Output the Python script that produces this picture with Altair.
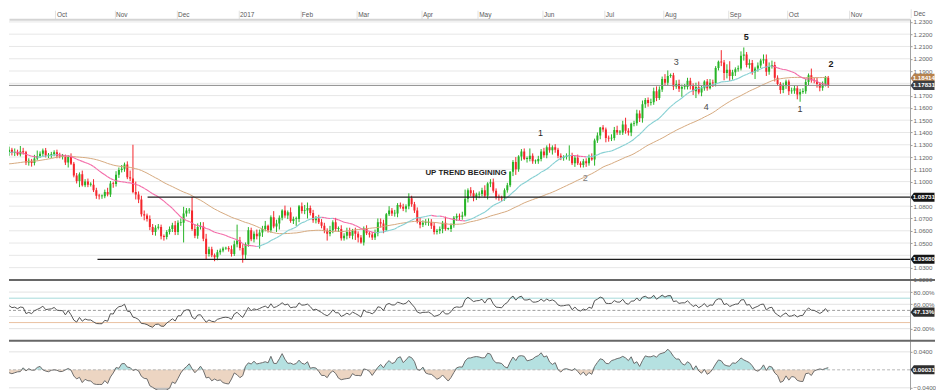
import altair as alt
import numpy as np
import pandas as pd

# ---------------- data: EUR/USD daily candles ----------------
# closes before the first visible candle (Jun 27 - Sep 7 2016), used only to seed the indicators
pre_close = [
    1.1035, 1.1065, 1.1125, 1.1105,
    1.1135, 1.1095, 1.1075, 1.1095, 1.1060, 1.1050, 1.1055, 1.1060, 1.1090, 1.1120,
    1.1040, 1.1065, 1.1020, 1.1005, 1.1025, 1.0975, 1.0995, 1.0995, 1.1060, 1.1075, 1.1170,
    1.1160, 1.1225, 1.1150, 1.1130, 1.1085, 1.1090, 1.1120, 1.1180, 1.1135, 1.1160,
    1.1180, 1.1285, 1.1290, 1.1350, 1.1325, 1.1320, 1.1305, 1.1265, 1.1285, 1.1195,
    1.1180, 1.1145, 1.1160,
    1.1195, 1.1155, 1.1150, 1.1255, 1.1240,
]

# closes per month, and wicks (pips above / below the body)
c16_09 = [1.1260, 1.1233, 1.1240, 1.1220, 1.1245, 1.1240, 1.1155, 1.1170, 1.1152, 1.1188,
          1.1208, 1.1226, 1.1254, 1.1212, 1.1218, 1.1222, 1.1240]
wu16_09 = [25, 15, 30, 20, 45, 30, 10, 20, 15, 30, 45, 20, 15, 20, 15, 20, 15]
wd16_09 = [30, 20, 25, 10, 15, 20, 20, 25, 30, 20, 15, 15, 20, 15, 20, 25, 15]

c16_10 = [1.1210, 1.1205, 1.1205, 1.1155, 1.1200, 1.1145, 1.1050, 1.1005, 1.1060, 1.0970,
          1.1000, 1.0975, 1.0975, 1.0930, 1.0885, 1.0880, 1.0880, 1.0915, 1.0895, 1.0985, 1.0980]
wu16_10 = [20, 25, 20, 15, 15, 30, 15, 20, 15, 30, 20, 25, 20, 45, 20, 15, 15, 20, 35, 20, 15]
wd16_10 = [20, 15, 25, 20, 40, 10, 15, 20, 50, 10, 15, 20, 15, 15, 25, 25, 20, 15, 15, 20, 30]

c16_11 = [1.1055, 1.1095, 1.1105, 1.1140, 1.1035, 1.1025, 1.0915, 1.0895, 1.0855, 1.0735,
          1.0725, 1.0695, 1.0630, 1.0590, 1.0625, 1.0630, 1.0555, 1.0550, 1.0590, 1.0615,
          1.0645, 1.0590]
wu16_11 = [30, 20, 30, 15, 25, 55, 275, 85, 25, 30, 30, 15, 30, 25, 20, 25, 20, 15, 15, 20, 20, 35]
wd16_11 = [20, 25, 20, 25, 15, 20, 10, 40, 30, 20, 40, 20, 25, 25, 30, 15, 25, 30, 20, 20, 25, 25]

c16_12 = [1.0665, 1.0665, 1.0740, 1.0765, 1.0765, 1.0615, 1.0560, 1.0630, 1.0635, 1.0535,
          1.0410, 1.0450, 1.0400, 1.0385, 1.0425, 1.0440, 1.0455, 1.0460, 1.0450, 1.0410,
          1.0490, 1.0520]
wu16_12 = [20, 35, 55, 20, 20, 110, 40, 30, 35, 35, 40, 20, 20, 15, 20, 15, 15, 10, 15, 30, 30, 130]
wd16_12 = [25, 25, 160, 25, 25, 15, 20, 25, 20, 20, 45, 20, 15, 33, 25, 20, 15, 10, 20, 20, 15, 25]

c17_01 = [1.0460, 1.0405, 1.0490, 1.0605, 1.0530, 1.0575, 1.0555, 1.0585, 1.0615, 1.0640,
          1.0605, 1.0710, 1.0635, 1.0660, 1.0705, 1.0765, 1.0725, 1.0750, 1.0680, 1.0695,
          1.0695, 1.0800]
wu17_01 = [30, 30, 15, 25, 20, 20, 35, 25, 25, 40, 10, 15, 50, 30, 20, 10, 40, 15, 40, 20, 20, 10]
wd17_01 = [20, 65, 40, 20, 15, 25, 25, 100, 35, 20, 20, 20, 15, 45, 50, 20, 20, 30, 15, 25, 55, 25]

c17_02 = [1.0760, 1.0765, 1.0785, 1.0745, 1.0685, 1.0700, 1.0670, 1.0640, 1.0600, 1.0575,
          1.0605, 1.0670, 1.0615, 1.0615, 1.0540, 1.0560, 1.0590, 1.0560, 1.0600, 1.0575]
wu17_02 = [30, 45, 45, 20, 25, 20, 30, 25, 25, 20, 35, 15, 35, 20, 30, 20, 35, 35, 15, 25]
wd17_02 = [20, 25, 65, 20, 20, 25, 15, 20, 20, 55, 20, 25, 20, 25, 20, 20, 30, 20, 30, 50]

c17_03 = [1.0545, 1.0505, 1.0620, 1.0580, 1.0570, 1.0545, 1.0580, 1.0670, 1.0660, 1.0605,
          1.0735, 1.0765, 1.0740, 1.0740, 1.0810, 1.0795, 1.0780, 1.0800, 1.0865, 1.0815,
          1.0765, 1.0675, 1.0650]
wu17_03 = [20, 20, 15, 25, 15, 20, 30, 30, 30, 30, 10, 35, 20, 30, 15, 20, 25, 15, 40, 20, 20, 25, 30]
wd17_03 = [40, 10, 25, 15, 25, 20, 20, 25, 35, 25, 5, 15, 20, 25, 30, 15, 20, 30, 25, 20, 20, 15, 30]

c17_04 = [1.0665, 1.0665, 1.0670, 1.0640, 1.0590, 1.0600, 1.0615, 1.0665, 1.0615, 1.0615,
          1.0645, 1.0705, 1.0720, 1.0715, 1.0725, 1.0860, 1.0930, 1.0905, 1.0875, 1.0895]
wu17_04 = [20, 30, 30, 25, 30, 15, 20, 15, 50, 10, 15, 15, 20, 20, 30, 75, 15, 25, 25, 15]
wd17_04 = [20, 20, 25, 25, 20, 20, 25, 35, 15, 10, 25, 20, 25, 30, 25, 10, 30, 25, 35, 25]

c17_05 = [1.0900, 1.0930, 1.0885, 1.0985, 1.0995, 1.0925, 1.0875, 1.0870, 1.0865, 1.0930,
          1.0970, 1.1080, 1.1160, 1.1100, 1.1205, 1.1245, 1.1185, 1.1185, 1.1210, 1.1165,
          1.1165, 1.1185, 1.1245]
wu17_05 = [20, 20, 40, 10, 25, 30, 20, 20, 15, 15, 20, 5, 15, 40, 10, 20, 25, 20, 60, 20, 15, 25, 20]
wd17_05 = [30, 20, 15, 30, 30, 15, 20, 25, 25, 20, 20, 15, 35, 45, 20, 35, 10, 30, 20, 20, 20, 20, 20]

c17_06 = [1.1215, 1.1280, 1.1255, 1.1280, 1.1260, 1.1210, 1.1195, 1.1200, 1.1210, 1.1215,
          1.1150, 1.1195, 1.1150, 1.1135, 1.1165, 1.1150, 1.1195, 1.1180, 1.1335, 1.1375,
          1.1440, 1.1425]
wu17_06 = [30, 15, 30, 15, 25, 15, 20, 15, 20, 80, 20, 15, 25, 15, 20, 25, 25, 35, 15, 25, 5, 20]
wd17_06 = [20, 25, 20, 35, 25, 20, 20, 25, 20, 40, 15, 30, 15, 20, 20, 30, 20, 10, 50, 20, 30, 20]

c17_07 = [1.1355, 1.1350, 1.1355, 1.1420, 1.1400, 1.1400, 1.1465, 1.1415, 1.1400, 1.1470,
          1.1475, 1.1555, 1.1515, 1.1630, 1.1665, 1.1640, 1.1645, 1.1735, 1.1680, 1.1750, 1.1835]
wu17_07 = [15, 20, 30, 25, 35, 20, 30, 55, 20, 10, 20, 30, 25, 30, 15, 20, 30, 30, 40, 25, 20]
wd17_07 = [35, 25, 20, 20, 20, 20, 20, 25, 25, 30, 20, 20, 30, 35, 30, 30, 20, 20, 25, 15, 20]

c17_08 = [1.1805, 1.1860, 1.1865, 1.1775, 1.1795, 1.1755, 1.1770, 1.1770, 1.1820, 1.1780,
          1.1735, 1.1770, 1.1725, 1.1760, 1.1815, 1.1760, 1.1805, 1.1800, 1.1925, 1.1975,
          1.1970, 1.1885, 1.1910]
wu17_08 = [40, 45, 15, 20, 30, 35, 20, 25, 25, 25, 20, 35, 45, 20, 10, 20, 30, 25, 15, 10, 95, 20, 45]
wd17_08 = [25, 25, 15, 30, 20, 25, 65, 20, 20, 30, 30, 55, 15, 30, 20, 20, 10, 30, 25, 20, 30, 60, 45]

c17_09 = [1.1860, 1.1890, 1.1915, 1.1920, 1.2025, 1.2035, 1.1950, 1.1965, 1.1890, 1.1920,
          1.1945, 1.1985, 1.1995, 1.1895, 1.1940, 1.1950, 1.1845, 1.1795, 1.1745, 1.1785, 1.1815]
wu17_09 = [70, 20, 15, 25, 35, 57, 20, 30, 25, 15, 25, 15, 40, 40, 30, 35, 25, 20, 15, 20, 15]
wd17_09 = [40, 30, 30, 20, 15, 40, 20, 30, 20, 55, 25, 20, 25, 35, 25, 20, 30, 15, 30, 25, 30]

c17_10 = [1.1735, 1.1740, 1.1760, 1.1710, 1.1730, 1.1735, 1.1810, 1.1865, 1.1825, 1.1820,
          1.1795, 1.1765, 1.1790, 1.1845, 1.1783]
wu17_10 = [15, 25, 25, 20, 25, 25, 25, 15, 55, 20, 25, 15, 25, 15, 15]
wd17_10 = [30, 20, 25, 40, 60, 15, 20, 25, 20, 20, 30, 30, 25, 15, 20]

# drawn horizontal levels (start = trading-day number, Oct 3 2016 = 0)
level_start = [32.2, 14.4]
level_price = [1.08731, 1.03680]
last_price_line = [1.17831]

# right-hand price tags
tag_text = ["1.18414", "1.17831", "1.08731", "1.03680"]
tag_price = [1.18414, 1.17831, 1.08731, 1.03680]
tag_bg = ["#b7824d", "#3b3e43", "#151515", "#151515"]

# price axis labels that are not hidden behind a tag
price_labels = [1.02, 1.03, 1.05, 1.06, 1.07, 1.08, 1.10, 1.11, 1.12, 1.13, 1.14, 1.15,
                1.16, 1.17, 1.19, 1.20, 1.21, 1.22, 1.23]
price_grid = [round(1.02 + 0.01 * k, 2) for k in range(22)]

# wave annotations
bold_text = ["5", "2"]
bold_x = [244.9, 275.0]
bold_y = [1.2180, 1.1961]
trend_text = ["UP TREND BEGINING"]
trend_x = [130.9]
trend_y = [1.1067]
plain_text = ["3", "4", "1", "2", "1"]
plain_x = [220.0, 230.7, 264.0, 187.7, 171.8]
plain_y = [1.1977, 1.1611, 1.1587, 1.1026, 1.1392]
plain_col = ["#4a4a4a", "#4a4a4a", "#3a3a3a", "#7a7a7a", "#1e1e1e"]

rsi_labels = [20, 60, 80]
rsi_grid = [20, 40, 60, 80]
rsi_tag = ["47.13%"]
rsi_tag_val = [47.13]
osc_labels = [-0.04, 0.04]
osc_tag = ["0.00031"]
osc_tag_val = [0.00031]

# ---------------- assemble ----------------
months = [
    (c16_09, wu16_09, wd16_09), (c16_10, wu16_10, wd16_10), (c16_11, wu16_11, wd16_11),
    (c16_12, wu16_12, wd16_12), (c17_01, wu17_01, wd17_01), (c17_02, wu17_02, wd17_02),
    (c17_03, wu17_03, wd17_03), (c17_04, wu17_04, wd17_04), (c17_05, wu17_05, wd17_05),
    (c17_06, wu17_06, wd17_06), (c17_07, wu17_07, wd17_07), (c17_08, wu17_08, wd17_08),
    (c17_09, wu17_09, wd17_09), (c17_10, wu17_10, wd17_10),
]
for k, (a, b, cc) in enumerate(months):
    assert len(a) == len(b) == len(cc), (k, len(a), len(b), len(cc))
closes = sum((m[0] for m in months), [])
wick_up = sum((m[1] for m in months), [])
wick_dn = sum((m[2] for m in months), [])

dates = pd.bdate_range("2016-09-08", "2017-10-20")
pre_dates = pd.bdate_range("2016-06-27", "2016-09-07")
assert len(pre_dates) == len(pre_close), (len(pre_dates), len(pre_close))
assert len(dates) == len(closes), (len(dates), len(closes))

cal = pd.bdate_range("2016-09-08", "2017-12-29")
ORIGIN = cal.get_loc(pd.Timestamp("2016-10-03"))
idx = np.arange(len(closes)) - ORIGIN

npre = len(pre_close)
allc = pd.Series(pre_close + closes, dtype=float)
ma20 = allc.rolling(20).mean().to_numpy()[npre:]
ma50 = allc.rolling(50).mean().to_numpy()[npre:]
dd = allc.diff()
ag = dd.clip(lower=0).ewm(alpha=1 / 14, adjust=False).mean()
al = (-dd.clip(upper=0)).ewm(alpha=1 / 14, adjust=False).mean()
rsi = (100 - 100 / (1 + ag / al)).to_numpy()[npre:]
mom = (allc - allc.shift(14)).to_numpy()[npre:]

c = np.array(closes)
o = np.array([pre_close[-1]] + closes[:-1])
hi = np.maximum(o, c) + np.array(wick_up) * 1e-4
lo = np.minimum(o, c) - np.array(wick_dn) * 1e-4
b_lo = np.minimum(o, c)
b_hi = np.maximum(np.maximum(o, c), b_lo + 0.0007)

GREEN, RED = "#27b427", "#f4262c"
TEAL, PINK, TAN = "#84cfd2", "#f36aa8", "#d6aa80"

df = pd.DataFrame({
    "idx": idx, "low": lo, "high": hi, "b0": b_lo, "b1": b_hi,
    "col": np.where(c >= o, GREEN, RED), "ma50": ma50,
    "rsi": rsi, "rsi_hi": np.maximum(rsi, 70), "rsi_lo": np.minimum(rsi, 30),
    "mom": mom, "m_pos": np.maximum(mom, 0), "m_neg": np.minimum(mom, 0),
    "m_deep": np.minimum(mom, -0.04),
})
seg = pd.DataFrame({"x0": idx[:-1], "x1": idx[1:], "m0": ma20[:-1], "m1": ma20[1:]})
seg["col"] = np.where(seg["m1"] >= seg["m0"], TEAL, PINK)

# month labels at the first trading day of each month
mlab = []
for (yy, mm), grp in cal.to_series().groupby([cal.year, cal.month]):
    if (yy, mm) < (2016, 10):
        continue
    first = grp.min()
    mlab.append((int(cal.get_loc(first) - ORIGIN), "2017" if (yy == 2017 and mm == 1) else first.strftime("%b")))

# ---------------- chart ----------------
PX_PER_DAY = 2.818
W = 902
X_LO = -17.033
X_HI = X_LO + W / PX_PER_DAY
RIGHT = 928  # total drawing width

in_frame = [(p, t) for p, t in mlab if p <= X_HI]
past_frame = [(p, t) for p, t in mlab if p > X_HI]   # "Dec" sits above the price scale
month_vals = [p for p, _ in in_frame]
label_expr = "".join(f"datum.value == {p} ? '{t}' : " for p, t in in_frame) + "''"

xs = alt.Scale(domain=[X_LO, X_HI], nice=False, zero=False, padding=0)
xax = alt.Axis(orient="top", values=month_vals, labelExpr=label_expr, ticks=True, tickSize=9,
               tickColor="#e2e2e2", tickOffset=-1.5, grid=False,
               title=None, labelAlign="left", labelOffset=1, labelFontSize=6.5, labelColor="#5a5a5a",
               labelBaseline="bottom", domainColor="#d4d4d4", domainWidth=2, labelPadding=-7,
               labelOverlap=False, labelBound=False, labelFlush=False)
X = alt.X("idx:Q", scale=xs, axis=xax)
Xn = alt.X("idx:Q", scale=xs, axis=None)

AX_COMMON = dict(orient="right", title=None, tickSize=2, tickColor="#9a9a9a", domainColor="#a0a0a0",
                 labelFontSize=6.2, labelColor="#666666", labelPadding=1, labelOverlap=False,
                 labelBound=False, labelFlush=False, grid=False)

ys = alt.Scale(domain=[1.02, 1.02 + 261 / 1230], nice=False, zero=False)
yax = alt.Axis(values=price_labels, format=".4f", **AX_COMMON)


def Yp(f):
    return alt.Y(f, type="quantitative", scale=ys, axis=yax)


TAG = "M -1 0 L -0.72 -0.38 L 1 -0.38 L 1 0.38 L -0.72 0.38 Z"
TAG_X = W + 12.5
TXT_X = W + 13.8
TAG_SIZE = 576

pgrid = alt.Chart(pd.DataFrame({"v": price_grid})).mark_rule(color="#e7e7e7").encode(y=Yp("v"))
base = alt.Chart(df)
wicks = base.mark_rule(strokeWidth=1, clip=True).encode(x=X, y=Yp("low"), y2="high:Q",
                                                        color=alt.Color("col:N", scale=None))
bodies = base.mark_bar(size=2, clip=True).encode(x=X, y=Yp("b0"), y2="b1:Q", color=alt.Color("col:N", scale=None))
ma_slow = base.mark_line(color=TAN, strokeWidth=1, clip=True).encode(x=X, y=Yp("ma50"))
ma_fast = alt.Chart(seg).mark_rule(strokeWidth=1.1, clip=True).encode(
    x=alt.X("x0:Q", scale=xs, axis=xax), x2="x1:Q", y=Yp("m0"), y2="m1:Q",
    color=alt.Color("col:N", scale=None))
lv = alt.Chart(pd.DataFrame({"s": level_start, "p": level_price})).mark_rule(
    color="#1c1c1c", strokeWidth=1.3).encode(x=alt.X("s:Q", scale=xs, axis=xax), x2=alt.value(W), y=Yp("p"))
pline = alt.Chart(pd.DataFrame({"p": last_price_line})).mark_rule(color="#8c8c8c", strokeWidth=1).encode(y=Yp("p"))
tdf = pd.DataFrame({"t": tag_text, "p": tag_price, "bg": tag_bg})
tags = alt.Chart(tdf).mark_point(shape=TAG, size=TAG_SIZE, filled=True, opacity=1, strokeWidth=0).encode(
    x=alt.value(TAG_X), y=Yp("p"), color=alt.Color("bg:N", scale=None))
tag_txt = alt.Chart(tdf).mark_text(fontSize=6.2, fontWeight="bold", color="white", font="Liberation Sans").encode(
    x=alt.value(TXT_X), y=Yp("p"), text="t:N")
ann_b = alt.Chart(pd.DataFrame({"t": bold_text, "x": bold_x, "y": bold_y})).mark_text(
    fontSize=9, fontWeight="bold", color="#1a1a1a", font="Liberation Sans").encode(
    x=alt.X("x:Q", scale=xs, axis=xax), y=Yp("y"), text="t:N")
ann_t = alt.Chart(pd.DataFrame({"t": trend_text, "x": trend_x, "y": trend_y})).mark_text(
    fontSize=7.9, fontWeight="bold", color="#1e1e1e", align="left", font="Liberation Sans").encode(
    x=alt.X("x:Q", scale=xs, axis=xax), y=Yp("y"), text="t:N")
ann_p = alt.Chart(pd.DataFrame({"t": plain_text, "x": plain_x, "y": plain_y, "c": plain_col})).mark_text(
    fontSize=9, font="Liberation Sans").encode(
    x=alt.X("x:Q", scale=xs, axis=xax), y=Yp("y"), text="t:N", color=alt.Color("c:N", scale=None))
late_df = pd.DataFrame({"p": [p for p, _ in past_frame], "t": [t for _, t in past_frame]})
late_tick = alt.Chart(late_df).mark_rule(color="#e2e2e2", xOffset=-1.5).encode(
    x=alt.X("p:Q", scale=xs, axis=xax), y=alt.value(-10), y2=alt.value(-1))
late_lab = alt.Chart(late_df).mark_text(fontSize=6.5, color="#5a5a5a", align="left", baseline="bottom",
                                        dx=1, font="Liberation Sans").encode(
    x=alt.X("p:Q", scale=xs, axis=xax), y=alt.value(-2), text="t:N")

price = alt.layer(pgrid, wicks, bodies, ma_slow, ma_fast, lv, pline, ann_b, ann_t, ann_p, late_tick, late_lab,
                  tags, tag_txt).properties(width=W, height=261)

# RSI panel
yr = alt.Scale(domain=[0, 100], nice=False)
yrax = alt.Axis(values=rsi_labels, labelExpr="format(datum.value, '.2f') + '%'", **AX_COMMON)


def Yr(f):
    return alt.Y(f, type="quantitative", scale=yr, axis=yrax)


sep = alt.Chart(pd.DataFrame({"a": [0]})).mark_rule(color="#676767", strokeWidth=2).encode(
    x=alt.value(0), x2=alt.value(RIGHT - 1), y=alt.value(0))
rgrid = alt.Chart(pd.DataFrame({"v": rsi_grid})).mark_rule(color="#e2e2e2").encode(y=Yr("v"))
rband = alt.Chart(pd.DataFrame({"v": [70, 30], "c": ["#a6dada", "#eac2a2"]})).mark_rule(strokeWidth=1).encode(
    y=Yr("v"), color=alt.Color("c:N", scale=None))
rmid = alt.Chart(pd.DataFrame({"v": [50]})).mark_rule(color="#9c9c9c", strokeDash=[3, 2]).encode(y=Yr("v"))
rb = alt.Chart(df)
r_hi = rb.mark_area(color="#b2e0e0", clip=True).encode(x=Xn, y=Yr("rsi_hi"), y2=alt.datum(70))
r_lo = rb.mark_area(color="#ebcdb3", clip=True).encode(x=Xn, y=Yr("rsi_lo"), y2=alt.datum(30))
r_line = rb.mark_line(color="#555555", strokeWidth=1, clip=True).encode(x=Xn, y=Yr("rsi"))
rtdf = pd.DataFrame({"t": rsi_tag, "v": rsi_tag_val})
r_tag = alt.Chart(rtdf).mark_point(shape=TAG, size=TAG_SIZE, filled=True, opacity=1, strokeWidth=0,
                                   color="#2e2e2e").encode(x=alt.value(TAG_X), y=Yr("v"))
r_tagt = alt.Chart(rtdf).mark_text(fontSize=6.2, fontWeight="bold", color="white", font="Liberation Sans").encode(
    x=alt.value(TXT_X), y=Yr("v"), text="t:N")
rsi_panel = alt.layer(rgrid, rband, rmid, r_hi, r_lo, r_line, sep, r_tag, r_tagt).properties(width=W, height=61)

# momentum panel
ym = alt.Scale(domain=[-0.06, 29 / 450], nice=False, zero=False)
ymax = alt.Axis(values=osc_labels, format=".4f", **AX_COMMON)


def Ym(f):
    return alt.Y(f, type="quantitative", scale=ym, axis=ymax)


mgrid = alt.Chart(pd.DataFrame({"v": osc_labels})).mark_rule(color="#e2e2e2").encode(y=Ym("v"))
mb = alt.Chart(df)
m_pos = mb.mark_area(color="#b5e1e1", clip=True).encode(x=Xn, y=Ym("m_pos"), y2=alt.datum(0))
m_neg = mb.mark_area(color="#ecd5c2", clip=True).encode(x=Xn, y=Ym("m_neg"), y2=alt.datum(0))
m_deep = mb.mark_area(color="#bdbdbd", clip=True).encode(x=Xn, y=Ym("m_deep"), y2=alt.datum(-0.04))
mzero = alt.Chart(pd.DataFrame({"v": [0]})).mark_rule(color="#b8b8b8", strokeDash=[3, 2]).encode(y=Ym("v"))
m_line = mb.mark_line(color="#6c6c6c", strokeWidth=1, clip=True).encode(x=Xn, y=Ym("mom"))
mtdf = pd.DataFrame({"t": osc_tag, "v": osc_tag_val})
m_tag = alt.Chart(mtdf).mark_point(shape=TAG, size=TAG_SIZE, filled=True, opacity=1, strokeWidth=0,
                                   color="#2e2e2e").encode(x=alt.value(TAG_X), y=Ym("v"))
m_tagt = alt.Chart(mtdf).mark_text(fontSize=6.2, fontWeight="bold", color="white", font="Liberation Sans").encode(
    x=alt.value(TXT_X), y=Ym("v"), text="t:N")
mom_panel = alt.layer(mgrid, m_pos, m_neg, m_deep, mzero, m_line, sep, m_tag, m_tagt).properties(width=W, height=56)

chart = alt.vconcat(price, rsi_panel, mom_panel, spacing=0, bounds="flush").properties(
    padding={"left": 0, "top": 0, "right": 0, "bottom": 0}
).configure(padding={"left": 0, "top": 0, "right": 0, "bottom": 0}).configure_view(
    stroke=None).configure_axis(labelFont="Liberation Sans")

chart.save("out.html", embed_options={"renderer": "svg", "actions": False})
